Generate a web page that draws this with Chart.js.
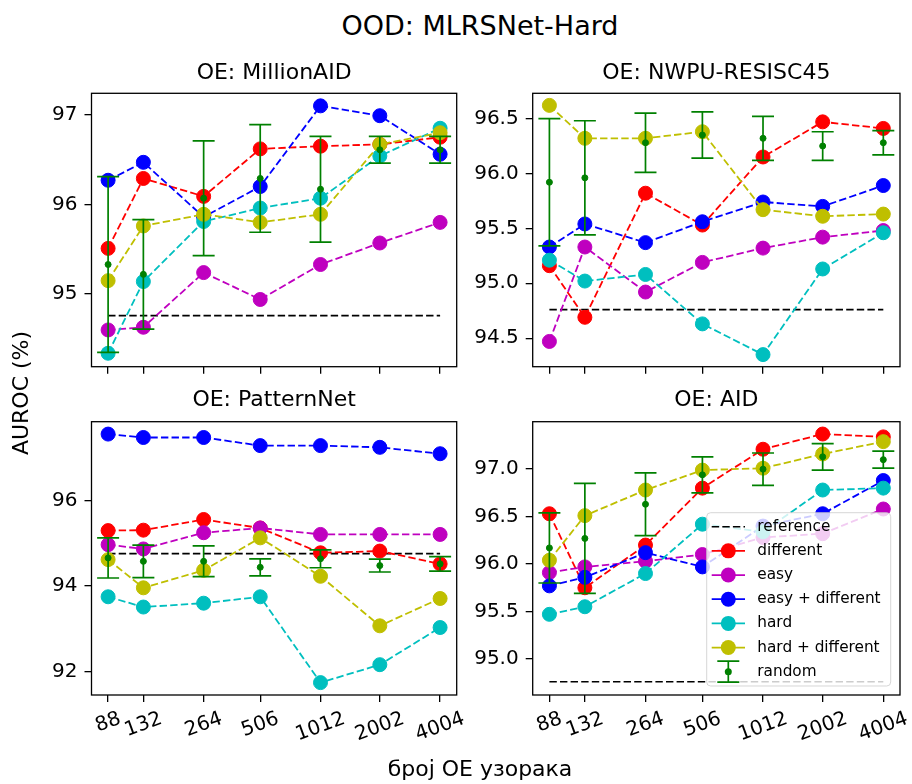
<!DOCTYPE html>
<html>
<head>
<meta charset="utf-8">
<script src="https://cdn.jsdelivr.net/npm/chart.js@4.4.0/dist/chart.umd.min.js"></script>
<style>
  body { margin: 0; background: #fff; width: 912px; height: 784px; overflow: hidden; position: relative; font-family: 'DejaVu Sans', sans-serif; }
  .panel { position: absolute; }
  .txt { position: absolute; white-space: nowrap; color: #000; text-align: center; }
</style>
</head>
<body>
<div class="txt" style="left:180px; width:600px; top:12px; font-size:27px; line-height:27px;">OOD: MLRSNet-Hard</div>
<div class="panel" style="left:20px; top:50px;"><canvas id="p0" width="447" height="350"></canvas></div>
<div class="panel" style="left:461px; top:50px;"><canvas id="p1" width="449" height="350"></canvas></div>
<div class="panel" style="left:20px; top:378px;"><canvas id="p2" width="447" height="380"></canvas></div>
<div class="panel" style="left:461px; top:378px;"><canvas id="p3" width="449" height="380"></canvas></div>
<div class="txt" style="left:330px; width:300px; top:758px; font-size:22px; line-height:22px;">број ОЕ узорака</div>
<div class="txt" style="left:-78.6px; width:200px; top:381.5px; font-size:22px; line-height:22px; transform:rotate(-90deg);">AUROC (%)</div>

<script>
// number of OE samples (x axis, log scale)
var sampleSizes = [88, 132, 264, 506, 1012, 2002, 4004];
var referenceAuroc = 94.76;

var seriesNames = ['different', 'easy', 'easy + different', 'hard', 'hard + different'];
var seriesColors = ['#ff0000', '#bf00bf', '#0000ff', '#00bfbf', '#bfbf00'];

// OE: MillionAID
var millionDifferent = [95.51, 96.29, 96.09, 96.62, 96.65, 96.67, 96.75];
var millionEasy      = [94.60, 94.63, 95.24, 94.94, 95.33, 95.57, 95.80];
var millionEasyDiff  = [96.27, 96.47, 95.86, 96.20, 97.10, 96.99, 96.56];
var millionHard      = [94.34, 95.14, 95.81, 95.96, 96.07, 96.54, 96.85];
var millionHardDiff  = [95.15, 95.76, 95.89, 95.80, 95.89, 96.67, 96.80];
var millionRandom    = [95.33, 95.22, 96.07, 96.29, 96.17, 96.61, 96.61];
var millionRandomErr = [0.98, 0.61, 0.64, 0.60, 0.59, 0.15, 0.15];

// OE: NWPU-RESISC45
var nwpuDifferent = [95.16, 94.69, 95.82, 95.53, 96.15, 96.47, 96.41];
var nwpuEasy      = [94.47, 95.33, 94.92, 95.19, 95.32, 95.42, 95.48];
var nwpuEasyDiff  = [95.33, 95.54, 95.37, 95.56, 95.74, 95.70, 95.89];
var nwpuHard      = [95.21, 95.02, 95.08, 94.63, 94.35, 95.13, 95.46];
var nwpuHardDiff  = [96.62, 96.32, 96.32, 96.38, 95.67, 95.61, 95.63];
var nwpuRandom    = [95.92, 95.96, 96.28, 96.35, 96.32, 96.25, 96.28];
var nwpuRandomErr = [0.58, 0.52, 0.27, 0.21, 0.20, 0.13, 0.11];

// OE: PatternNet
var patternDifferent = [95.30, 95.31, 95.56, 95.36, 94.78, 94.82, 94.52];
var patternEasy      = [94.97, 94.87, 95.25, 95.36, 95.21, 95.21, 95.21];
var patternEasyDiff  = [97.56, 97.48, 97.48, 97.29, 97.29, 97.25, 97.10];
var patternHard      = [93.75, 93.51, 93.60, 93.75, 91.74, 92.16, 93.03];
var patternHardDiff  = [94.62, 93.96, 94.37, 95.13, 94.23, 93.07, 93.71];
var patternRandom    = [94.66, 94.58, 94.58, 94.44, 94.64, 94.48, 94.52];
var patternRandomErr = [0.47, 0.38, 0.36, 0.20, 0.21, 0.15, 0.17];

// OE: AID
var aidDifferent = [96.53, 95.75, 96.20, 96.80, 97.21, 97.37, 97.34];
var aidEasy      = [95.91, 95.97, 96.03, 96.10, 96.28, 96.32, 96.58];
var aidEasyDiff  = [95.77, 95.86, 96.12, 95.97, 96.40, 96.53, 96.88];
var aidHard      = [95.47, 95.55, 95.90, 96.42, 96.34, 96.78, 96.80];
var aidHardDiff  = [96.04, 96.51, 96.78, 96.99, 97.01, 97.16, 97.29];
var aidRandom    = [96.17, 96.27, 96.63, 96.94, 97.00, 97.13, 97.10];
var aidRandomErr = [0.37, 0.58, 0.33, 0.19, 0.17, 0.14, 0.09];

// y axis ticks per panel
var millionTicks = [95, 96, 97];
var nwpuTicks    = [94.5, 95.0, 95.5, 96.0, 96.5];
var patternTicks = [92, 94, 96];
var aidTicks     = [95.0, 95.5, 96.0, 96.5, 97.0];

var FONT = 'DejaVu Sans';
Chart.defaults.font.family = FONT;
Chart.defaults.color = '#000';

var panels = [
  { id: 'p0', title: 'OE: MillionAID', series: [millionDifferent, millionEasy, millionEasyDiff, millionHard, millionHardDiff],
    random: millionRandom, err: millionRandomErr, ticks: millionTicks, dec: 0, ymin: 94.19, ymax: 97.24,
    yW: 71.5, padR: 10.3, tTop: 9.6, tBottom: 7.3, xH: 33.3, xLabels: false, legend: false },
  { id: 'p1', title: 'OE: NWPU-RESISC45', series: [nwpuDifferent, nwpuEasy, nwpuEasyDiff, nwpuHard, nwpuHardDiff],
    random: nwpuRandom, err: nwpuRandomErr, ticks: nwpuTicks, dec: 1, ymin: 94.24, ymax: 96.73,
    yW: 71.7, padR: 10, tTop: 9.6, tBottom: 7.3, xH: 33.3, xLabels: false, legend: false },
  { id: 'p2', title: 'OE: PatternNet', series: [patternDifferent, patternEasy, patternEasyDiff, patternHard, patternHardDiff],
    random: patternRandom, err: patternRandomErr, ticks: patternTicks, dec: 0, ymin: 91.45, ymax: 97.85,
    yW: 71.5, padR: 10.3, tTop: 9.3, tBottom: 8.0, xH: 63, xLabels: true, legend: false },
  { id: 'p3', title: 'OE: AID', series: [aidDifferent, aidEasy, aidEasyDiff, aidHard, aidHardDiff],
    random: aidRandom, err: aidRandomErr, ticks: aidTicks, dec: 1, ymin: 94.62, ymax: 97.5,
    yW: 71.7, padR: 10, tTop: 9.3, tBottom: 8.0, xH: 63, xLabels: true, legend: true }
];

function points(vals) {
  return sampleSizes.map(function (n, i) { return { x: n, y: vals[i] }; });
}

// box around the axes
var framePlugin = {
  id: 'frame',
  afterDatasetsDraw: function (chart) {
    var a = chart.chartArea, ctx = chart.ctx;
    ctx.save();
    ctx.strokeStyle = '#000';
    ctx.lineWidth = 1.3;
    ctx.strokeRect(a.left, a.top, a.right - a.left, a.bottom - a.top);
    ctx.restore();
  }
};

// error bars for the "random" series
var errorBarPlugin = {
  id: 'errorBars',
  afterDatasetDraw: function (chart, args) {
    var ds = chart.data.datasets[args.index];
    if (!ds.errors) return;
    var ctx = chart.ctx, x = chart.scales.x, y = chart.scales.y;
    ctx.save();
    ctx.strokeStyle = ds.borderColor;
    ctx.lineWidth = 1.7;
    ds.data.forEach(function (p, i) {
      var px = x.getPixelForValue(p.x);
      var top = y.getPixelForValue(p.y + ds.errors[i]);
      var bot = y.getPixelForValue(p.y - ds.errors[i]);
      ctx.beginPath();
      ctx.moveTo(px, top); ctx.lineTo(px, bot);
      ctx.moveTo(px - 11, top); ctx.lineTo(px + 11, top);
      ctx.moveTo(px - 11, bot); ctx.lineTo(px + 11, bot);
      ctx.stroke();
    });
    ctx.restore();
  }
};

// rotated, centred x tick labels (matplotlib style)
var xLabelPlugin = {
  id: 'xLabels',
  afterDraw: function (chart, args, opts) {
    if (!opts.show) return;
    var ctx = chart.ctx, x = chart.scales.x, area = chart.chartArea;
    var ang = 20 * Math.PI / 180;
    ctx.save();
    ctx.font = '20px "' + FONT + '"';
    ctx.fillStyle = '#000';
    ctx.textAlign = 'center';
    ctx.textBaseline = 'middle';
    x.ticks.forEach(function (t) {
      var label = String(t.value);
      var w = ctx.measureText(label).width;
      var bh = w * Math.sin(ang) + 0.73 * 20 * Math.cos(ang);
      var cx = x.getPixelForValue(t.value);
      var cy = area.bottom + 16.4 + bh / 2;
      ctx.save();
      ctx.translate(cx, cy);
      ctx.rotate(-ang);
      ctx.fillText(label, 0, 0);
      ctx.restore();
    });
    ctx.restore();
  }
};

// matplotlib-like legend inside the axes (lower right)
var legendPlugin = {
  id: 'boxLegend',
  afterDraw: function (chart, args, opts) {
    if (!opts.show) return;
    var ctx = chart.ctx, area = chart.chartArea;
    var w = 184, h = 173.3;
    var x0 = area.right - 9.3 - w, y0 = area.bottom - 9 - h;
    ctx.save();
    ctx.beginPath();
    ctx.roundRect(x0, y0, w, h, 4);
    ctx.fillStyle = 'rgba(255,255,255,0.8)';
    ctx.fill();
    ctx.strokeStyle = 'rgba(204,204,204,0.8)';
    ctx.lineWidth = 1;
    ctx.stroke();
    ctx.font = '15.3px "' + FONT + '"';
    ctx.textBaseline = 'middle';
    ctx.textAlign = 'left';
    chart.data.datasets.forEach(function (ds, i) {
      var cy = y0 + 14 + i * 24.17;
      var lx = x0 + 5, rx = x0 + 38.3, mx = x0 + 21.6;
      ctx.strokeStyle = ds.borderColor;
      ctx.fillStyle = ds.borderColor;
      if (ds.errors) {
        ctx.lineWidth = 1.7;
        ctx.setLineDash([]);
        ctx.beginPath();
        ctx.moveTo(mx, cy - 10.5); ctx.lineTo(mx, cy + 10.5);
        ctx.moveTo(mx - 11, cy - 10.5); ctx.lineTo(mx + 11, cy - 10.5);
        ctx.moveTo(mx - 11, cy + 10.5); ctx.lineTo(mx + 11, cy + 10.5);
        ctx.stroke();
        ctx.beginPath(); ctx.arc(mx, cy, 3.5, 0, Math.PI * 2); ctx.fill();
      } else if (ds.pointRadius === 0) {
        ctx.lineWidth = 1.6;
        ctx.setLineDash(ds.borderDash);
        ctx.beginPath(); ctx.moveTo(lx, cy); ctx.lineTo(rx, cy); ctx.stroke();
        ctx.setLineDash([]);
      } else {
        ctx.lineWidth = 1.8;
        ctx.beginPath(); ctx.moveTo(lx, cy); ctx.lineTo(rx, cy); ctx.stroke();
        ctx.beginPath(); ctx.arc(mx, cy, 7.5, 0, Math.PI * 2); ctx.fill();
      }
      ctx.fillStyle = '#000';
      ctx.fillText(ds.label, x0 + 50.6, cy);
    });
    ctx.restore();
  }
};

function drawPanel(p) {
  var datasets = [];
  datasets.push({
    label: 'reference',
    data: [{ x: sampleSizes[0], y: referenceAuroc }, { x: sampleSizes[sampleSizes.length - 1], y: referenceAuroc }],
    borderColor: '#000', borderWidth: 1.6, borderDash: [7.4, 3.2], pointRadius: 0
  });
  p.series.forEach(function (vals, i) {
    datasets.push({
      label: seriesNames[i],
      data: points(vals),
      borderColor: seriesColors[i],
      backgroundColor: seriesColors[i],
      pointBackgroundColor: seriesColors[i],
      pointBorderColor: seriesColors[i],
      borderWidth: 1.8,
      borderDash: [7.4, 3.2],
      pointRadius: 7,
      pointBorderWidth: 1
    });
  });
  datasets.push({
    label: 'random',
    data: points(p.random),
    errors: p.err,
    borderColor: '#008000',
    backgroundColor: '#008000',
    pointBackgroundColor: '#008000',
    pointBorderColor: '#008000',
    showLine: false,
    pointRadius: 3,
    pointBorderWidth: 1
  });
  // later series drawn on top, like matplotlib
  datasets.forEach(function (ds, i) { ds.order = datasets.length - i; ds.clip = false; });

  new Chart(document.getElementById(p.id), {
    type: 'line',
    data: { datasets: datasets },
    plugins: [framePlugin, errorBarPlugin, xLabelPlugin, legendPlugin],
    options: {
      responsive: false,
      animation: false,
      events: [],
      layout: { padding: { left: 0, top: 0, bottom: 0, right: p.padR } },
      plugins: {
        legend: { display: false },
        tooltip: { enabled: false },
        title: {
          display: true, text: p.title, color: '#000', fullSize: false,
          font: { family: FONT, size: 22, weight: 'normal' },
          padding: { top: p.tTop, bottom: p.tBottom }
        },
        xLabels: { show: p.xLabels },
        boxLegend: { show: p.legend }
      },
      scales: {
        x: {
          type: 'logarithmic',
          min: 72.7, max: 4846,
          afterBuildTicks: function (s) { s.ticks = sampleSizes.map(function (v) { return { value: v }; }); },
          afterFit: function (s) { s.height = p.xH; },
          ticks: { display: false },
          grid: { drawOnChartArea: false, drawTicks: true, tickLength: 7, color: '#000', lineWidth: 1.3 },
          border: { display: false }
        },
        y: {
          type: 'linear',
          min: p.ymin, max: p.ymax,
          afterBuildTicks: function (s) { s.ticks = p.ticks.map(function (v) { return { value: v }; }); },
          afterFit: function (s) { s.width = p.yW; },
          ticks: {
            padding: 7, color: '#000', font: { family: FONT, size: 20 },
            callback: function (v) { return Number(v).toFixed(p.dec); }
          },
          grid: { drawOnChartArea: false, drawTicks: true, tickLength: 7, color: '#000', lineWidth: 1.3 },
          border: { display: false }
        }
      }
    }
  });
}

panels.forEach(drawPanel);
</script>
</body>
</html>
